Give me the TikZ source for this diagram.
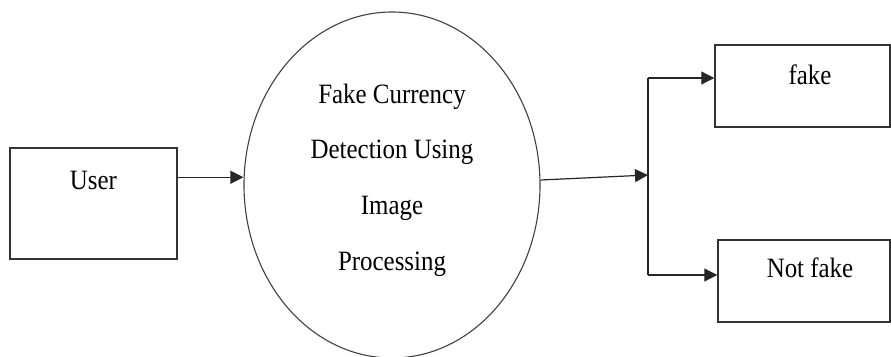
\documentclass[tikz,border=0pt]{standalone}
\usepackage{fontspec}
\setmainfont{Liberation Serif}[FakeStretch=0.89]
\usetikzlibrary{shapes.geometric,arrows.meta}

\tikzset{
  box/.style={draw=black!80, line width=1.5pt, rectangle, inner sep=0pt},
  proc/.style={draw=black!75, line width=1.1pt, ellipse, inner sep=0pt,
               minimum width=296pt, minimum height=346pt},
  lbl/.style={font=\fontsize{28}{32}\selectfont, text=black},
  arr/.style={line width=1.2pt, draw=black!85,
              -{Triangle[length=13pt,width=13pt]}},
  wire/.style={line width=1.2pt, draw=black!85},
}

\begin{document}
\begin{tikzpicture}[x=1pt, y=-1pt]
  \useasboundingbox (0,0) rectangle (891,356);

  % actor, process and the two outcomes
  \node[box, minimum width=167pt, minimum height=111pt,
        label={[lbl, anchor=base, yshift=-42pt]north:User}]
        (user) at (93.5,203.5) {};
  \node[proc] (proc) at (392,185) {};
  \node[lbl, font=\fontsize{28}{55.7}\selectfont, align=center, yshift=5pt]
        (proctext) at (proc.center)
        {Fake Currency\\Detection Using\\Image\\Processing};
  \node[box, minimum width=175pt, minimum height=82pt,
        label={[lbl, anchor=base, yshift=-40pt, xshift=7.5pt]north:fake}]
        (fake) at (802.5,86) {};
  \node[box, minimum width=172pt, minimum height=82pt,
        label={[lbl, anchor=base, yshift=-38pt, xshift=6pt]north:Not fake}]
        (notfake) at (804,281) {};

  % branching point and attachment points
  \coordinate (split) at (648,175);
  \coordinate (fa) at ([yshift=8pt]fake.west);
  \coordinate (nfa) at ([yshift=6pt]notfake.west);

  % connectors
  \draw[arr] ([yshift=-30pt]user.north east) coordinate (u1) -- (u1 -| proc.west);
  \draw[arr] ([yshift=5pt]proc.east) -- (split);
  \draw[wire] (split |- fa) -- (split |- nfa);
  \draw[arr] (split |- fa) -- (fa);
  \draw[arr] (split |- nfa) -- (nfa);
\end{tikzpicture}
\end{document}
